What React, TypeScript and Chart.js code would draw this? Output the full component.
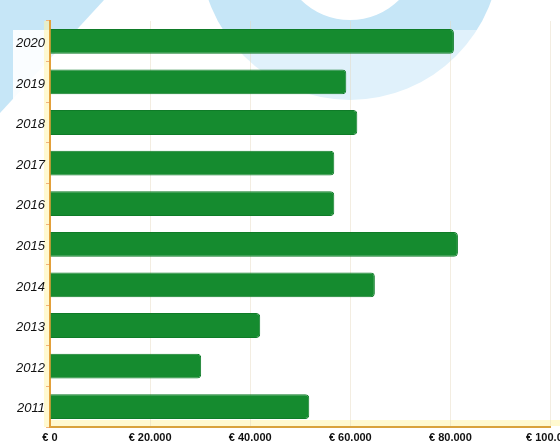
import React, { useEffect, useRef } from "react";
import { Chart, registerables } from "chart.js";

Chart.register(...registerables);

const years = ["2020", "2019", "2018", "2017", "2016", "2015", "2014", "2013", "2012", "2011"];
const amounts = [80700, 59200, 61400, 56800, 56800, 81500, 64900, 42000, 30200, 51800];
const xTickLabels = ["€ 0", "€ 20.000", "€ 40.000", "€ 60.000", "€ 80.000", "€ 100.000"];

const BLUE = "#c6e6f7";

const backgroundPlugin = {
  id: "bgShapes",
  beforeDraw(chart: any) {
    const { ctx, width, height, chartArea } = chart;
    ctx.save();
    ctx.fillStyle = "#ffffff";
    ctx.fillRect(0, 0, width, height);
    ctx.fillStyle = BLUE;
    // left shape
    ctx.beginPath();
    ctx.moveTo(0, 0);
    ctx.lineTo(104, 0);
    ctx.lineTo(0, 113);
    ctx.closePath();
    ctx.fill();
    // ring
    ctx.beginPath();
    ctx.arc(350, -50, 150, 0, Math.PI * 2, false);
    ctx.arc(350, -50, 70, 0, Math.PI * 2, true);
    ctx.fill("evenodd");
    // overlays
    ctx.fillStyle = "rgba(255,255,255,0.9)";
    ctx.fillRect(13, 30, chartArea.left - 13, height - 30);
    ctx.fillStyle = "rgba(255,255,255,0.45)";
    ctx.fillRect(chartArea.left, 30, width - chartArea.left, height - 30);
    // pale yellow halos along axes
    ctx.fillStyle = "rgba(255,244,170,0.55)";
    ctx.fillRect(chartArea.left, chartArea.bottom - 7, width - chartArea.left, 6);
    ctx.fillRect(chartArea.left - 6, chartArea.top, 5, chartArea.bottom - chartArea.top);
    ctx.restore();
  },
};

export default function App() {
  const ref = useRef<HTMLCanvasElement | null>(null);
  useEffect(() => {
    const canvas = ref.current;
    if (!canvas) return;
    const chart = new Chart(canvas, {
      type: "bar",
      data: {
        labels: years,
        datasets: [
          {
            data: amounts,
            backgroundColor: "#158b2f",
            borderColor: "#0f7b28",
            borderWidth: 1,
            borderRadius: 4,
            barPercentage: 0.9,
            categoryPercentage: 0.68,
          },
        ],
      },
      options: {
        indexAxis: "y",
        responsive: false,
        animation: false,
        devicePixelRatio: 1,
        layout: { padding: { top: 21, left: 0, right: 0, bottom: 0 } },
        plugins: {
          legend: { display: false },
          tooltip: { enabled: false },
        },
        scales: {
          x: {
            min: 0,
            max: 100000,
            afterFit: (s: any) => {
              s.height = 20;
            },
            ticks: {
              stepSize: 20000,
              padding: 4,
              color: "#111",
              font: { family: "'Liberation Sans', Arial, sans-serif", size: 11, weight: "bold" },
              maxRotation: 0,
              autoSkip: false,
              callback: (_v: any, i: number) => xTickLabels[i],
            },
            grid: {
              color: "rgba(228,216,188,0.45)",
              drawTicks: false,
              lineWidth: 1,
            },
            border: { color: "#d9a23c", width: 2 },
          },
          y: {
            afterFit: (s: any) => {
              s.width = 50;
            },
            ticks: {
              padding: 1,
              labelOffset: 2,
              color: "#111",
              font: { family: "'Liberation Sans', Arial, sans-serif", size: 13, style: "italic" },
            },
            grid: {
              drawOnChartArea: false,
              drawTicks: true,
              tickLength: 4,
              color: "#f2b27a",
            },
            border: { color: "#e3a03a", width: 2 },
          },
        },
      },
      plugins: [backgroundPlugin],
    } as any);
    return () => chart.destroy();
  }, []);

  return (
    <div
      style={{
        position: "fixed",
        left: 0,
        top: 0,
        width: 560,
        height: 441,
        overflow: "hidden",
        background: "#fff",
      }}
    >
      <canvas ref={ref} width={579} height={447} style={{ display: "block", width: 579, height: 447 }} />
    </div>
  );
}
